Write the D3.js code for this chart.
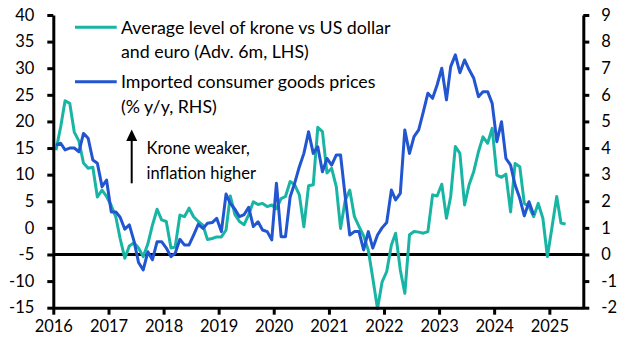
<!DOCTYPE html>
<html>
<head>
<meta charset="utf-8">
<script src="https://cdn.jsdelivr.net/npm/d3@7"></script>
<style>
  html, body { margin: 0; padding: 0; background: #fff; }
  svg { display: block; }
  text { font-family: Lato, "Noto Sans", sans-serif; fill: #000; }
</style>
</head>
<body>
<div id="chart"></div>
<script>
// ---- Data (monthly, starting Jan 2016) ----
const startYear = 2016, startMonth = 0;
const yearTicks = [2016, 2017, 2018, 2019, 2020, 2021, 2022, 2023, 2024, 2025];
const leftTicks = [-15, -10, -5, 0, 5, 10, 15, 20, 25, 30, 35, 40];
const rightTicks = [-2, -1, 0, 1, 2, 3, 4, 5, 6, 7, 8, 9];

// Average level of krone vs US dollar and euro (Adv. 6m, LHS)
const kroneValues = [
  14.6, 19.0, 23.9, 23.4, 18.0, 16.3, 12.2, 11.2, 11.4, 5.8, 7.1, 5.9,
  4.2, 2.0, -2.0, -5.7, -3.4, -2.8, -3.8, -5.4, -3.0, 0.5, 3.5, 1.5,
  1.2, -3.8, -3.6, 2.4, 2.1, 3.7, 2.1, 1.2, 0.5, -2.2, -2.0, -1.7,
  -1.7, -0.4, 6.0, 2.5, 1.2, 0.6, 2.5, 4.9, 4.4, 4.6, 4.0, 4.3,
  3.6, 5.5, 5.9, 8.7, 8.1, 6.2, 0.2, 7.9, 8.1, 18.9, 18.1, 10.3,
  11.2, 7.7, -0.1, 5.2, 7.1, 2.1, 0.3, -1.5, -4.2, -9.5, -15.2, -10.2,
  -8.2, -3.2, -1.0, -7.9, -12.3, -1.3, -0.7, -0.8, -1.0, -0.7, 6.2, 6.0,
  8.2, 1.8, 5.9, 15.3, 14.0, 4.3, 8.1, 10.6, 14.3, 17.1, 15.9, 18.7,
  9.9, 9.5, 10.1, 3.0, 12.1, 11.5, 4.6, 4.0, 2.1, 4.6, 1.8, -5.4,
  0.2, 5.9, 0.9, 0.7
];

// Imported consumer goods prices (% y/y, RHS)
const importValues = [
  4.11, 4.18, 3.93, 4.0, 4.0, 3.86, 4.55, 4.37, 3.55, 3.43, 2.55, 2.8,
  1.6, 1.6, 1.4, 0.95, 1.11, 0.5, -0.3, -0.58, 0.1, -0.2, 0.48, 0.48,
  0.24, -0.08, 0.05, 0.57, 0.36, 0.36, 0.73, 1.13, 0.98, 1.17, 1.2, 1.36,
  0.86, 2.27, 1.92, 1.7, 1.42, 1.5, 1.77, 1.05, 1.23, 0.92, 0.86, 0.55,
  2.68, 0.67, 0.67, 2.17, 2.68, 3.3, 3.8, 4.61, 3.8, 4.05, 3.11, 3.61,
  3.36, 3.74, 3.74, 2.17, 0.73, 0.86, 0.86, 0.17, 0.86, 0.24, 0.73, 1.0,
  1.2, 2.42, 2.05, 2.3, 4.68, 3.8, 4.43, 4.68, 5.37, 6.06, 5.87, 6.37,
  7.0, 5.81, 7.06, 7.5, 6.83, 7.31, 6.95, 6.62, 5.93, 6.12, 6.12, 5.68,
  4.24, 4.99, 3.61, 3.36, 2.61, 2.11, 1.45, 1.98, 1.48
];

const legendLabels = [
  ["Average level of krone vs US dollar", "and euro (Adv. 6m, LHS)"],
  ["Imported consumer goods prices", "(% y/y, RHS)"]
];
const annotationLines = ["Krone weaker,", "inflation higher"];
const colors = { krone: "#19b5a4", imports: "#2255d0" };

// ---- Layout ----
const W = 630, H = 355;
const plot = { left: 53.3, right: 583.3, top: 15, bottom: 307.7 };

const svg = d3.select("#chart").append("svg")
  .attr("width", W).attr("height", H);

const toDate = i => new Date(startYear, startMonth + i, 19);

const x = d3.scaleTime()
  .domain([new Date(2016, 0, 1), new Date(2025, 7, 14)])
  .range([plot.left, plot.right]);
const yL = d3.scaleLinear().domain([-15, 40]).range([plot.bottom, plot.top]);
const yR = d3.scaleLinear().domain([-2, 9]).range([plot.bottom, plot.top]);

// zero line (RHS 0 / LHS -5)
svg.append("line")
  .attr("x1", plot.left).attr("x2", plot.right)
  .attr("y1", yR(0)).attr("y2", yR(0))
  .attr("stroke", "#000").attr("stroke-width", 3);

// Lines
const lineL = d3.line().x((d, i) => x(toDate(i))).y(d => yL(d));
const lineR = d3.line().x((d, i) => x(toDate(i))).y(d => yR(d));

svg.append("path").datum(kroneValues)
  .attr("d", lineL).attr("fill", "none")
  .attr("stroke", colors.krone).attr("stroke-width", 3)
  .attr("stroke-linejoin", "round");
svg.append("path").datum(importValues)
  .attr("d", lineR).attr("fill", "none")
  .attr("stroke", colors.imports).attr("stroke-width", 3)
  .attr("stroke-linejoin", "round");

// Axes
const fmt = d => String(d);
function styleAxis(g) {
  g.select(".domain").attr("stroke", "#000").attr("stroke-width", 3);
  g.selectAll(".tick line").attr("stroke", "#000").attr("stroke-width", 3);
  g.selectAll(".tick text").attr("font-family", "Lato, 'Noto Sans', sans-serif")
    .attr("font-size", 16.5).attr("fill", "#000");
}

svg.append("g")
  .attr("transform", `translate(${plot.left},0)`)
  .call(d3.axisLeft(yL).tickValues(leftTicks).tickFormat(fmt)
    .tickSize(6).tickSizeOuter(0).tickPadding(13))
  .call(styleAxis);

svg.append("g")
  .attr("transform", `translate(${plot.right},0)`)
  .call(d3.axisRight(yR).tickValues(rightTicks).tickFormat(fmt)
    .tickSize(6).tickSizeOuter(0).tickPadding(12))
  .call(styleAxis);

svg.append("g")
  .attr("transform", `translate(0,${plot.bottom})`)
  .call(d3.axisBottom(x)
    .tickValues(yearTicks.map(y => new Date(y, 0, 1)))
    .tickFormat(d3.timeFormat("%Y"))
    .tickSize(7).tickSizeOuter(0).tickPadding(6))
  .call(styleAxis);

// Legend
const legendY = [27.3, 81.7];
const legendColors = [colors.krone, colors.imports];
legendLabels.forEach((lines, k) => {
  svg.append("line")
    .attr("x1", 75).attr("x2", 116.7)
    .attr("y1", legendY[k]).attr("y2", legendY[k])
    .attr("stroke", legendColors[k]).attr("stroke-width", 3);
  lines.forEach((t, j) => {
    svg.append("text")
      .attr("x", 121).attr("y", legendY[k] + 6.3 + j * 24.5)
      .attr("font-size", 17.8).text(t);
  });
});

// Annotation arrow
const ax = 131.7;
svg.append("line")
  .attr("x1", ax).attr("x2", ax).attr("y1", 183.3).attr("y2", 140)
  .attr("stroke", "#000").attr("stroke-width", 2);
svg.append("path")
  .attr("d", `M${ax},129.5 L${ax - 5.5},141 L${ax + 5.5},141 Z`)
  .attr("fill", "#000");
annotationLines.forEach((t, j) => {
  svg.append("text")
    .attr("x", 146.5).attr("y", 153.5 + j * 25)
    .attr("font-size", 16.5).text(t);
});
</script>
</body>
</html>
